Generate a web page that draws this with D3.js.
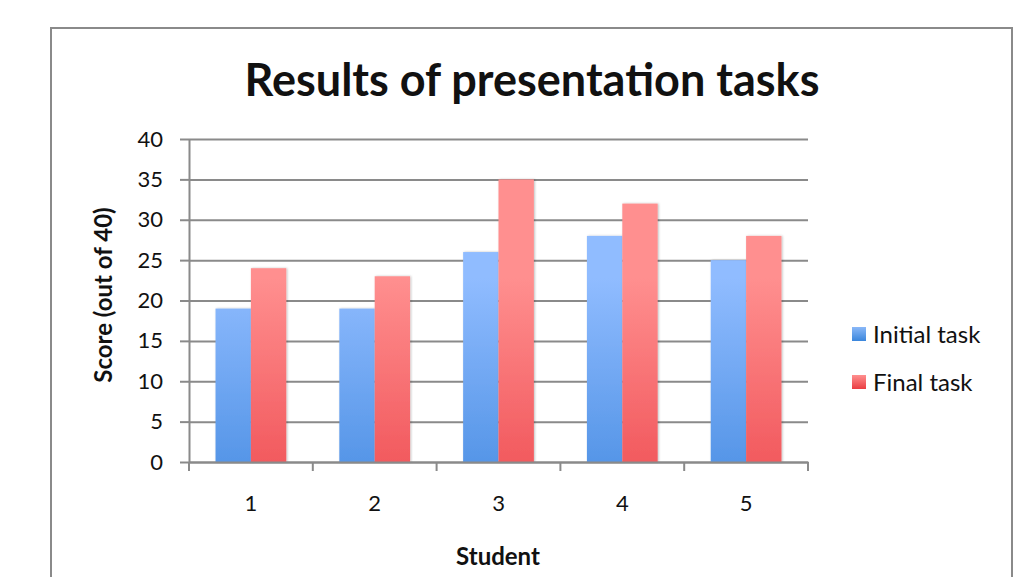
<html>
<head>
  <meta charset="UTF-8">
  <title>Results of presentation tasks</title>
  <script src="https://d3js.org/d3.v7.min.js"></script>
  <style>
    body { margin: 0; background: #fff; }
    text { font-family: Lato, "Open Sans", sans-serif; fill: #111; }
  </style>
</head>
<body>
<svg id="svg1" width="1030" height="577"></svg>
<script>
  // data
  const students = ["1", "2", "3", "4", "5"];
  const initialTask = [19, 19, 26, 28, 25];
  const finalTask = [24, 23, 35, 32, 28];
  const seriesNames = ["Initial task", "Final task"];
  const yTicks = [0, 5, 10, 15, 20, 25, 30, 35, 40];

  const svg1 = d3.select("#svg1");
  const margin = { top: 139, left: 189, right: 222, bottom: 115 };
  const plotWidth = 1030 - margin.left - margin.right;
  const plotHeight = 577 - margin.top - margin.bottom;
  const grey = "#8a8a8a";

  // outer frame
  svg1.append("rect")
      .attr("x", 51).attr("y", 28)
      .attr("width", 961).attr("height", 580)
      .attr("fill", "none").attr("stroke", grey).attr("stroke-width", 2);

  const defs = svg1.append("defs");
  const grads = [["blueGrad", "#90bcff", "#2a79d6"], ["redGrad", "#ff8f8f", "#e8323a"]];
  grads.forEach(g => {
    const lg = defs.append("linearGradient").attr("id", g[0])
        .attr("x1", 0).attr("x2", 0)
        .attr("gradientUnits", "userSpaceOnUse")
        .attr("y1", margin.top).attr("y2", margin.top + plotHeight);
    lg.append("stop").attr("offset", "0%").attr("stop-color", g[1]);
    lg.append("stop").attr("offset", "100%").attr("stop-color", g[2]);
  });
  const shadow = defs.append("filter").attr("id", "shadow")
      .attr("x", "-20%").attr("y", "-5%").attr("width", "140%").attr("height", "110%");
  shadow.append("feDropShadow").attr("dx", 1).attr("dy", 0).attr("stdDeviation", 1.2)
      .attr("flood-color", "#000").attr("flood-opacity", 0.25);

  const plot = svg1.append("g")
      .attr("transform", "translate(" + margin.left + "," + margin.top + ")");

  const xScale = d3.scaleBand(students, [0, plotWidth]);
  const yScale = d3.scaleLinear([0, 40], [plotHeight, 0]);
  const subScale = d3.scaleBand([0, 1], [0, xScale.bandwidth()]).paddingInner(0).paddingOuter(0.75);
  const fills = ["url(#blueGrad)", "url(#redGrad)"];

  // gridlines
  plot.append("g")
      .attr("class", "y gridlines")
      .call(d3.axisLeft(yScale).tickValues(yTicks).tickFormat("").tickSize(-plotWidth))
      .call(g => g.select(".domain").remove())
      .call(g => g.selectAll("line").attr("stroke", grey).attr("stroke-width", 2));

  // y axis
  plot.append("g")
      .attr("class", "y axis")
      .call(d3.axisLeft(yScale).tickValues(yTicks).tickSize(9).tickPadding(17).tickSizeOuter(0))
      .call(g => g.select(".domain").attr("stroke", grey).attr("stroke-width", 2))
      .call(g => g.selectAll("line").attr("stroke", grey).attr("stroke-width", 2))
      .call(g => g.selectAll("text").attr("font-size", 22).style("font-family", "Lato, sans-serif").attr("fill", "#111"));

  // bars
  const data = students.map((s, i) => ({ student: s, values: [initialTask[i], finalTask[i]] }));
  const groups = plot.selectAll("g.group").data(data).join("g")
      .attr("class", "group")
      .attr("transform", d => "translate(" + xScale(d.student) + ",0)");
  groups.selectAll("rect").data(d => d.values).join("rect")
      .attr("x", (d, i) => subScale(i))
      .attr("width", subScale.bandwidth())
      .attr("y", d => yScale(d))
      .attr("height", d => plotHeight - yScale(d))
      .attr("fill", (d, i) => fills[i])
      .attr("filter", "url(#shadow)");

  // x axis
  plot.append("g")
      .attr("class", "x axis")
      .attr("transform", "translate(0," + plotHeight + ")")
      .call(d3.axisBottom(xScale).tickSize(0).tickPadding(33))
      .call(g => g.select(".domain").attr("stroke", grey).attr("stroke-width", 2))
      .call(g => g.selectAll("text").attr("font-size", 22).style("font-family", "Lato, sans-serif").attr("fill", "#111"));
  // category separators
  plot.append("g")
      .selectAll("line").data(students.concat(["end"])).join("line")
      .attr("x1", (d, i) => i * xScale.step()).attr("x2", (d, i) => i * xScale.step())
      .attr("y1", plotHeight).attr("y2", plotHeight + 9)
      .attr("stroke", grey).attr("stroke-width", 2);

  // title
  svg1.append("text")
      .attr("x", 532).attr("y", 96)
      .attr("text-anchor", "middle")
      .attr("font-size", 45).attr("font-weight", "bold")
      .text("Results of presentation tasks");

  // axis labels
  svg1.append("text")
      .attr("transform", "translate(112,295) rotate(-90)")
      .attr("text-anchor", "middle")
      .attr("font-size", 24).attr("font-weight", "bold")
      .text("Score (out of 40)");
  svg1.append("text")
      .attr("x", 498).attr("y", 565)
      .attr("text-anchor", "middle")
      .attr("font-size", 24).attr("font-weight", "bold")
      .text("Student");

  // legend
  const legend = svg1.append("g").attr("transform", "translate(852,327)");
  const legendFills = [["#8ab8f8", "#3a86dc"], ["#ff8f8f", "#ea3d42"]];
  legendFills.forEach((c, i) => {
    const lg = defs.append("linearGradient").attr("id", "leg" + i)
        .attr("x1", 0).attr("y1", 0).attr("x2", 0).attr("y2", 1);
    lg.append("stop").attr("offset", "0%").attr("stop-color", c[0]);
    lg.append("stop").attr("offset", "100%").attr("stop-color", c[1]);
  });
  const items = legend.selectAll("g").data(seriesNames).join("g")
      .attr("transform", (d, i) => "translate(0," + i * 48 + ")");
  items.append("rect").attr("width", 14).attr("height", 14)
      .attr("fill", (d, i) => "url(#leg" + i + ")");
  items.append("text").attr("x", 21).attr("y", 16)
      .attr("font-size", 24)
      .text(d => d);
</script>
</body>
</html>
